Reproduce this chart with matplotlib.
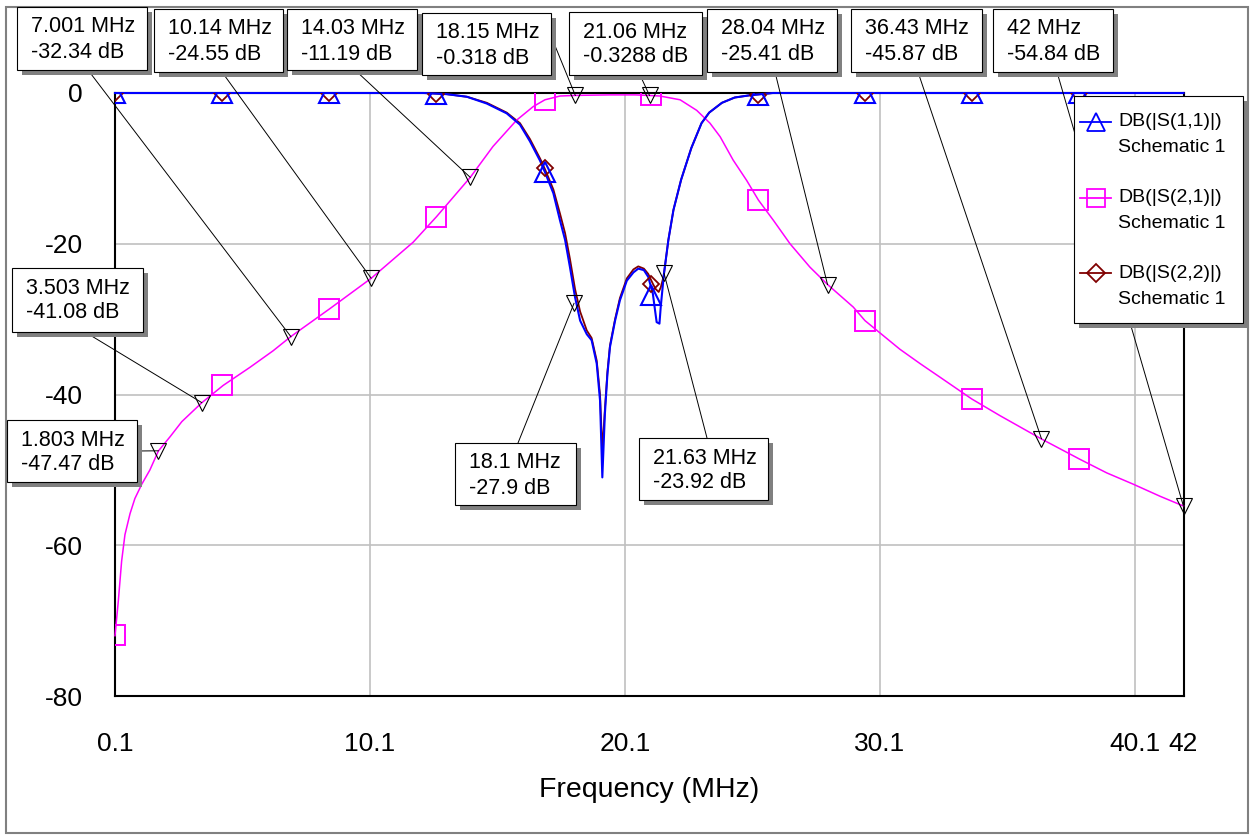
import matplotlib
matplotlib.use('Agg')
import matplotlib.pyplot as plt
from matplotlib.patches import Rectangle

plt.rcParams['font.family'] = ['Liberation Sans', 'DejaVu Sans']

# traces (MHz, dB)
freq_s21 = [0.1, 0.23, 0.36, 0.49, 0.69, 0.88, 1.15, 1.47, 1.8, 2.26, 2.72, 3.5, 4.34,
            5.39, 6.3, 7.0, 8.53, 10.14, 11.79, 12.71, 14.03, 14.92, 15.85, 16.5, 16.96,
            17.55, 18.15, 19.5, 20.5, 21.06, 21.47, 22.26, 22.91, 23.43, 23.83, 24.34,
            24.87, 25.33, 25.92, 26.57, 27.35, 28.04, 29.05, 29.51, 30.88, 31.67, 32.45,
            33.7, 34.8, 36.43, 37.94, 38.99, 40.03, 41.08, 42.0]
s21_db = [-72.0, -67.4, -62.1, -58.6, -55.8, -53.8, -51.9, -50.0, -47.5, -45.6, -43.6,
          -41.1, -38.8, -36.4, -34.2, -32.3, -28.6, -24.6, -19.8, -16.4, -11.2, -7.1,
          -3.6, -1.8, -0.9, -0.4, -0.32, -0.25, -0.25, -0.33, -0.4, -0.9, -2.3, -4.0,
          -5.8, -8.9, -11.6, -14.2, -16.9, -20.0, -23.1, -25.4, -28.4, -30.2, -34.0,
          -35.9, -37.7, -40.6, -42.8, -45.9, -48.6, -50.4, -51.9, -53.5, -54.8]

freq_s11 = [0.1, 12.2, 13.1, 13.9, 14.68, 15.46, 15.98, 16.37, 16.77, 16.96, 17.29,
            17.55, 17.75, 17.94, 18.14, 18.34, 18.6, 18.79, 18.99, 19.12, 19.21, 19.31,
            19.41, 19.51, 19.71, 19.9, 20.17, 20.43, 20.62, 20.84, 21.01, 21.19, 21.28,
            21.34, 21.45, 21.5, 21.6, 21.63, 21.8, 22.0, 22.3, 22.7, 23.1, 23.4, 23.9,
            24.4, 25.0, 25.9, 42.0]
s11_db = [0.0, 0.0, -0.15, -0.5, -1.4, -2.7, -4.2, -6.4, -9.0, -10.5, -13.3, -16.9,
          -19.5, -23.1, -27.1, -30.2, -32.0, -32.8, -35.9, -40.8, -51.0, -42.6, -37.3,
          -33.7, -30.2, -27.5, -24.9, -23.8, -23.3, -23.5, -24.4, -26.6, -28.9, -30.4,
          -30.6, -28.4, -24.9, -23.9, -19.5, -15.5, -11.5, -7.3, -4.0, -2.6, -1.3,
          -0.6, -0.3, 0.0, 0.0]

freq_s22 = [0.1, 12.2, 13.1, 13.9, 14.68, 15.46, 15.98, 16.37, 16.77, 16.96, 17.29,
            17.55, 17.75, 17.94, 18.14, 18.34, 18.6, 18.79, 18.99, 19.12, 19.21, 19.31,
            19.41, 19.51, 19.71, 19.9, 20.17, 20.43, 20.62, 20.84, 21.01, 21.19, 21.3,
            21.42, 21.5, 21.6, 21.63, 21.8, 22.0, 22.3, 22.7, 23.1, 23.4, 23.9, 24.4,
            25.0, 25.9, 42.0]
s22_db = [0.0, 0.0, -0.15, -0.5, -1.3, -2.6, -4.0, -6.1, -8.7, -10.1, -12.8, -16.0,
          -18.6, -22.0, -26.0, -29.0, -31.5, -32.5, -35.5, -40.0, -47.5, -42.0, -37.0,
          -33.5, -30.0, -27.2, -24.6, -23.4, -23.0, -23.3, -24.0, -25.3, -26.0, -26.4,
          -25.8, -24.5, -23.9, -19.5, -15.5, -11.5, -7.3, -4.0, -2.6, -1.3, -0.6, -0.3,
          0.0, 0.0]

# trace symbols
symbol_freq = [0.1, 4.3, 8.5, 12.7, 16.95, 21.1, 25.3, 29.5, 33.7, 37.9]
s21_symbols = [-71.9, -38.8, -28.6, -16.4, -0.9, -0.33, -14.2, -30.2, -40.6, -48.6]
s11_symbols = [0.0, 0.0, 0.0, -0.1, -10.5, -26.8, -0.3, 0.0, 0.0, 0.0]
s22_symbols = [0.0, 0.0, 0.0, -0.1, -10.0, -25.3, -0.3, 0.0, 0.0, 0.0]

trace_names = ['DB(|S(1,1)|)', 'DB(|S(2,1)|)', 'DB(|S(2,2)|)']

# marker readouts
marker_freq = [1.803, 3.503, 7.001, 10.14, 14.03, 18.15, 21.06, 28.04, 36.43, 42.0, 18.1, 21.63]
marker_db = [-47.47, -41.08, -32.34, -24.55, -11.19, -0.318, -0.3288, -25.41, -45.87,
             -54.84, -27.9, -23.92]

# readout boxes (left, top, right, bottom) and leader start, in pixels
box_px = [(7, 420, 137, 482), (12, 268, 143, 332), (17, 7, 147, 70), (154, 9, 283, 72),
          (287, 9, 417, 70), (422, 13, 551, 75), (569, 12, 702, 75), (707, 9, 837, 72),
          (851, 9, 982, 72), (993, 9, 1113, 72), (455, 443, 576, 505), (639, 438, 768, 500)]
leader_px = [(137, 451), (85, 332), (88, 70), (222, 72), (355, 70), (549, 31), (640, 75),
             (775, 72), (918, 72), (1057, 72), (518, 443), (707, 438)]

W, H = 1252, 836
fig = plt.figure(figsize=(W / 100, H / 100), dpi=100)
fig.patch.set_facecolor('white')
ax = fig.add_axes([115 / W, 1 - 696 / H, (1183.5 - 115) / W, (696 - 93) / H])

ax.plot(freq_s22, s22_db, color='#800000', lw=1.3, zorder=3, clip_on=False)
ax.plot(freq_s21, s21_db, color='#ff00ff', lw=1.1, zorder=3.1, clip_on=False)
ax.plot(freq_s11, s11_db, color='#0000ff', lw=1.5, zorder=3.2, clip_on=False)

ax.plot(symbol_freq, s22_symbols, ls='none', marker='D', ms=8.5, mfc='none',
        mec='#800000', mew=1.3, zorder=4)
ax.plot(symbol_freq, s21_symbols, ls='none', marker='s', ms=14, mfc='none',
        mec='#ff00ff', mew=1.4, zorder=4)
ax.plot(symbol_freq, s11_symbols, ls='none', marker='^', ms=14, mfc='none',
        mec='#0000ff', mew=1.5, zorder=4)

ax.plot(marker_freq, marker_db, ls='none', marker='v', ms=12, mfc='none', mec='black',
        mew=0.8, zorder=5, clip_on=False)

ax.set_xlim(0.1, 42)
ax.set_ylim(-80, 0)
ax.set_xticks([0.1, 10.1, 20.1, 30.1, 40.1, 42])
ax.set_xticklabels(['0.1', '10.1', '20.1', '30.1', '40.1', '42'])
ax.set_yticks([0, -20, -40, -60, -80])
ax.set_yticklabels(['0', '-20', '-40', '-60', '-80'])
ax.tick_params(length=0, labelsize=19, pad=23)
ax.tick_params(axis='x', pad=26)
ax.grid(color='#c0c0c0', lw=1.2)
ax.set_axisbelow(True)
for s in ax.spines.values():
    s.set_linewidth(1.5)
    s.set_color('black')
ax.set_xlabel('Frequency (MHz)', fontsize=20.5, labelpad=15)

# overlay in pixel coordinates for readouts, legend and frame
ov = fig.add_axes([0, 0, 1, 1], zorder=10)
ov.set_xlim(0, W)
ov.set_ylim(H, 0)
ov.axis('off')
ov.patch.set_alpha(0)

ov.add_patch(Rectangle((6, 7), 1242, 826, fill=False, ec='#808080', lw=1.5))

for f, db, box, start in zip(marker_freq, marker_db, box_px, leader_px):
    px, py = ax.transData.transform((f, db))
    ov.plot([start[0], px], [start[1], H - py], color='black', lw=0.7, zorder=1)
    l, t, r, b = box
    ov.add_patch(Rectangle((l + 5, t + 5), r - l, b - t, fc='#808080', ec='none', zorder=2))
    ov.add_patch(Rectangle((l, t), r - l, b - t, fc='white', ec='black', lw=0.8, zorder=3))
    ov.text(l + 14, t + 20, f'{f:.4g} MHz', fontsize=15.5, va='center', ha='left', zorder=4)
    ov.text(l + 14, t + 45, f'{db:.4g} dB', fontsize=15.5, va='center', ha='left', zorder=4)

# legend
ov.add_patch(Rectangle((1079, 101), 169, 227, fc='#808080', ec='none', zorder=2))
ov.add_patch(Rectangle((1074, 96), 169, 227, fc='white', ec='black', lw=0.8, zorder=3))
styles = [('#0000ff', '^', 13), ('#ff00ff', 's', 13), ('#800000', 'D', 9)]
for i, (name, (c, m, ms)) in enumerate(zip(trace_names, styles)):
    y = 122 + 75.5 * i
    ov.plot([1080, 1111], [y, y], color=c, lw=1.3, zorder=4)
    ov.plot([1095.5], [y], ls='none', marker=m, ms=ms, mfc='none', mec=c, mew=1.3, zorder=4)
    ov.text(1118, y, name, fontsize=14, va='center', ha='left', zorder=4)
    ov.text(1118, y + 26, 'Schematic 1', fontsize=14, va='center', ha='left', zorder=4)

fig.savefig('out.png', dpi=100)
